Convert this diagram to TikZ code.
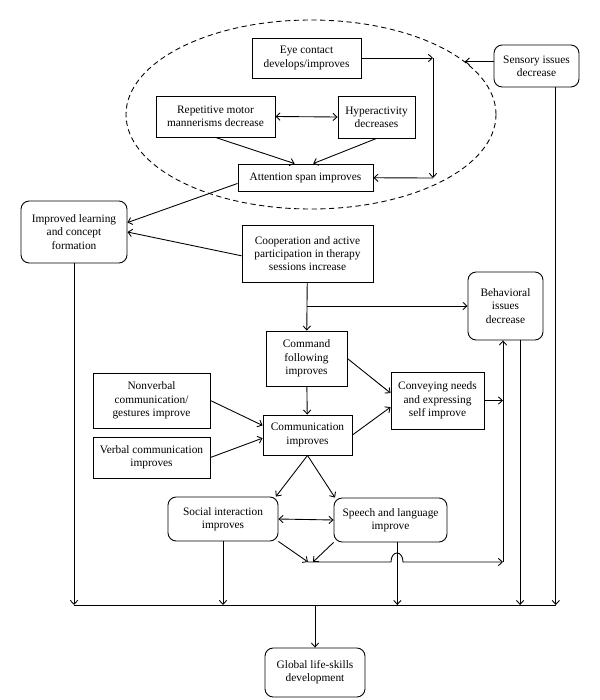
\documentclass[tikz,border=0pt]{standalone}
\usepackage{fontspec}
\setmainfont{Liberation Serif}
\usetikzlibrary{shapes.geometric,arrows.meta}

\begin{document}
\begin{tikzpicture}[x=0.03cm, y=-0.03cm, line width=0.75pt,
    >={Straight Barb[length=1.2mm,width=2.2mm]},
    font=\fontsize{9.7}{11.3}\selectfont,
    main/.style 2 args = {draw, align=center, inner sep=0pt,
      minimum width=#1*0.03cm, minimum height=#2*0.03cm},
    soft/.style 2 args = {main={#1}{#2}, rounded corners=7pt}]
      \useasboundingbox (0,0) rectangle (600,700);

      % dashed group round the first skills
      \node[draw, dash pattern=on 4.5pt off 3pt, ellipse, inner sep=0pt,
        minimum width=370*0.03cm, minimum height=189*0.03cm] (focus) at (311,114.5) {};

      \node[main={109}{40}] (eye) at (306.5,58) {Eye contact\\develops/improves};
      \node[main={119}{41}] (rep) at (215.5,116.5) {Repetitive motor\\mannerisms decrease};
      \node[main={77}{42}] (hyp) at (376.5,117) {Hyperactivity\\decreases};
      \node[main={135}{27}] (att) at (305.5,177.5) {Attention span improves};
      \node[soft={85}{42}] (sens) at (536.5,66) {Sensory issues\\decrease};
      \node[soft={106}{62}] (learn) at (74,232) {Improved learning\\and concept\\formation};
      \node[main={131}{57}] (coop) at (307.5,253.5) {Cooperation and active\\participation in therapy\\sessions increase};
      \node[soft={75}{68}] (beh) at (505.5,306) {Behavioral\\issues\\decrease};
      \node[main={81}{55}] (cmd) at (306.5,358.5) {Command\\following\\improves};
      \node[main={93}{57}] (conv) at (437.5,400.5) {Conveying needs\\and expressing\\self improve};
      \node[main={117}{55}] (nonv) at (151.5,400.5) {Nonverbal\\communication/\\gestures improve};
      \node[main={117}{41}] (verb) at (151.5,457.5) {Verbal communication\\improves};
      \node[main={89}{40}] (comm) at (307.5,435) {Communication\\improves};
      \node[soft={110}{44}] (soc) at (223,519) {Social interaction\\improves};
      \node[soft={113}{44}] (spch) at (390.5,520) {Speech and language\\improve};
      \node[soft={100}{49}] (glob) at (315,672.5) {Global life-skills\\development};

      \coordinate (ec) at (433,58);
      \coordinate (ed) at (433,178);
      \coordinate (cb) at (307,306);
      \coordinate (cv1) at (308,562);
      \coordinate (cv2) at (313,562);
      \coordinate (bj) at (503,562);
      \coordinate (bm) at (315,605);

      \path[->]
      (eye) edge (ec)
      (ec) edge (ed)
      (ed) edge (att)
      (rep.east) edge[<->] (hyp.west)
      (rep.south) edge (att.128)
      (hyp.south) edge (att.61)
      (sens.west |- focus.19) edge (focus.19)
      (att.185) edge (learn.10)
      (coop.182) edge (learn.east)
      (coop) edge (cmd)
      (cb) edge (beh.west)
      (cmd) edge (comm)
      (cmd.east) edge (conv.171)
      (comm.east) edge (conv.188)
      (nonv.east) edge (comm.168)
      (verb.east) edge (comm.184)
      (comm.south) edge (soc.23)
      (comm.south) edge (spch.158)
      (soc.east) edge[<->] (spch.west)
      (soc.south east) edge (cv1)
      (spch.south west) edge (cv2)
      (conv.east) edge (bj |- conv.east)
      (bj) edge (bj |- beh.south)
      (learn.south) edge (learn.south |- bm)
      (soc.south) edge (soc.south |- bm)
      (spch.-73.5) edge (spch.-73.5 |- bm)
      (beh.-67) edge (beh.-67 |- bm)
      (sens.-48.6) edge (sens.-48.6 |- bm)
      (bm) edge (glob);

      % line over the speech branch
      \draw[->] (cv1) -- (391,562) .. controls (391,550) and (403,550) .. (403,562) -- (bj);
      \draw (learn.south |- bm) -- (sens.-48.6 |- bm);
    \end{tikzpicture}
\end{document}
